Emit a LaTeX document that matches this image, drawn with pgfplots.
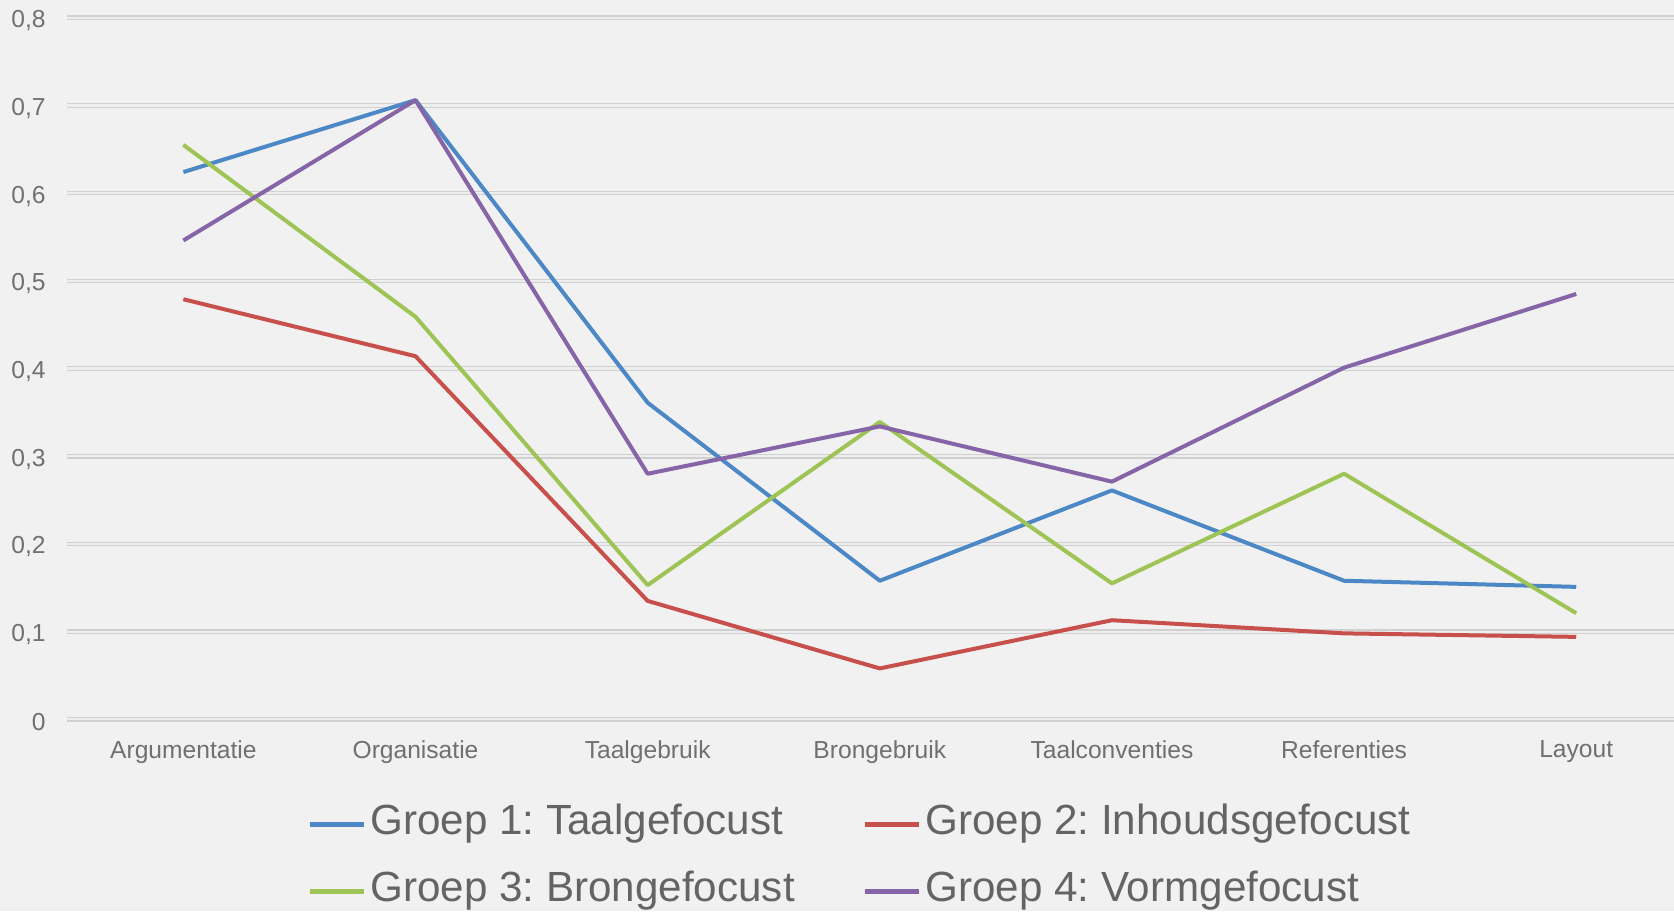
\documentclass[border=0pt]{standalone}
\usepackage{fontspec}
\setmainfont{Liberation Sans}
\usepackage{pgfplots}
\pgfplotsset{compat=1.18}
\definecolor{bg}{RGB}{242,241,241}
\definecolor{gridc}{RGB}{208,208,208}
\definecolor{gridin}{RGB}{238,238,238}
\definecolor{ticktext}{RGB}{112,112,112}
\definecolor{legtext}{RGB}{100,100,100}
\definecolor{c1}{RGB}{76,136,198}
\definecolor{c2}{RGB}{200,80,76}
\definecolor{c3}{RGB}{158,196,86}
\definecolor{c4}{RGB}{134,100,168}
\begin{document}
\frenchspacing
\begin{tikzpicture}
\fill[bg] (0,0) rectangle (167.4mm,91.1mm);
\begin{axis}[
  at={(6.73mm,19.17mm)}, anchor=south west,
  scale only axis, width=162.5mm, height=70.16mm,
  xmin=-0.5, xmax=6.5, ymin=0, ymax=0.8,
  axis line style={draw=none},
  major tick length=0pt,
  xtick={0,1,2,3,4,5,6},
  xticklabels={Argumentatie,Organisatie,Taalgebruik,Brongebruik,Taalconventies,Referenties,Layout},
  ytick={0,0.1,0.2,0.3,0.4,0.5,0.6,0.7,0.8},
  ymajorgrids,
  major grid style={draw=gridc, line width=0.12mm, double=gridin, double distance=0.22mm},
  /pgf/number format/assume math mode=true,
  yticklabel style={/pgf/number format/fixed, /pgf/number format/precision=1, /pgf/number format/use comma,
    anchor=east, inner sep=0pt, xshift=-2.1mm, yshift=-0.3mm,
    font=\fontsize{7}{8}\selectfont, text=ticktext},
  xticklabel style={anchor=north, inner sep=0pt, yshift=-2.1mm,
    font=\fontsize{7}{8}\selectfont, text=ticktext},
  legend columns=2,
  legend cell align=left,
  legend style={at={(rel axis cs:0.1475,-0.1221)}, anchor=north west, draw=none, fill=none,
    inner sep=0pt, outer sep=0pt, font=\fontsize{12}{14}\selectfont, text=legtext,
    row sep=2.8mm,
    /tikz/every odd column/.style={column sep=0.4mm},
    /tikz/every even column/.style={column sep=6.7mm, nodes={text height=3.0mm, text depth=0.9mm, inner sep=0pt}}},
  legend image code/.code={\draw[#1, line width=0.55mm] (0mm,0mm) -- (5.4mm,0mm);},
  every axis plot/.append style={line width=0.4mm, line join=round, mark=none},
]
\addplot[c1] coordinates {(0,0.624) (1,0.706) (2,0.361) (3,0.158) (4,0.261) (5,0.158) (6,0.151)};
\addplot[c2] coordinates {(0,0.479) (1,0.414) (2,0.135) (3,0.058) (4,0.113) (5,0.098) (6,0.094)};
\addplot[c3] coordinates {(0,0.655) (1,0.459) (2,0.153) (3,0.339) (4,0.155) (5,0.280) (6,0.121)};
\addplot[c4] coordinates {(0,0.546) (1,0.706) (2,0.280) (3,0.334) (4,0.271) (5,0.401) (6,0.485)};
\legend{Groep 1: Taalgefocust, Groep 2: Inhoudsgefocust, Groep 3: Brongefocust, Groep 4: Vormgefocust}
\end{axis}
\pgfresetboundingbox
\useasboundingbox (0,0) rectangle (167.4mm,91.1mm);
\end{tikzpicture}
\end{document}
